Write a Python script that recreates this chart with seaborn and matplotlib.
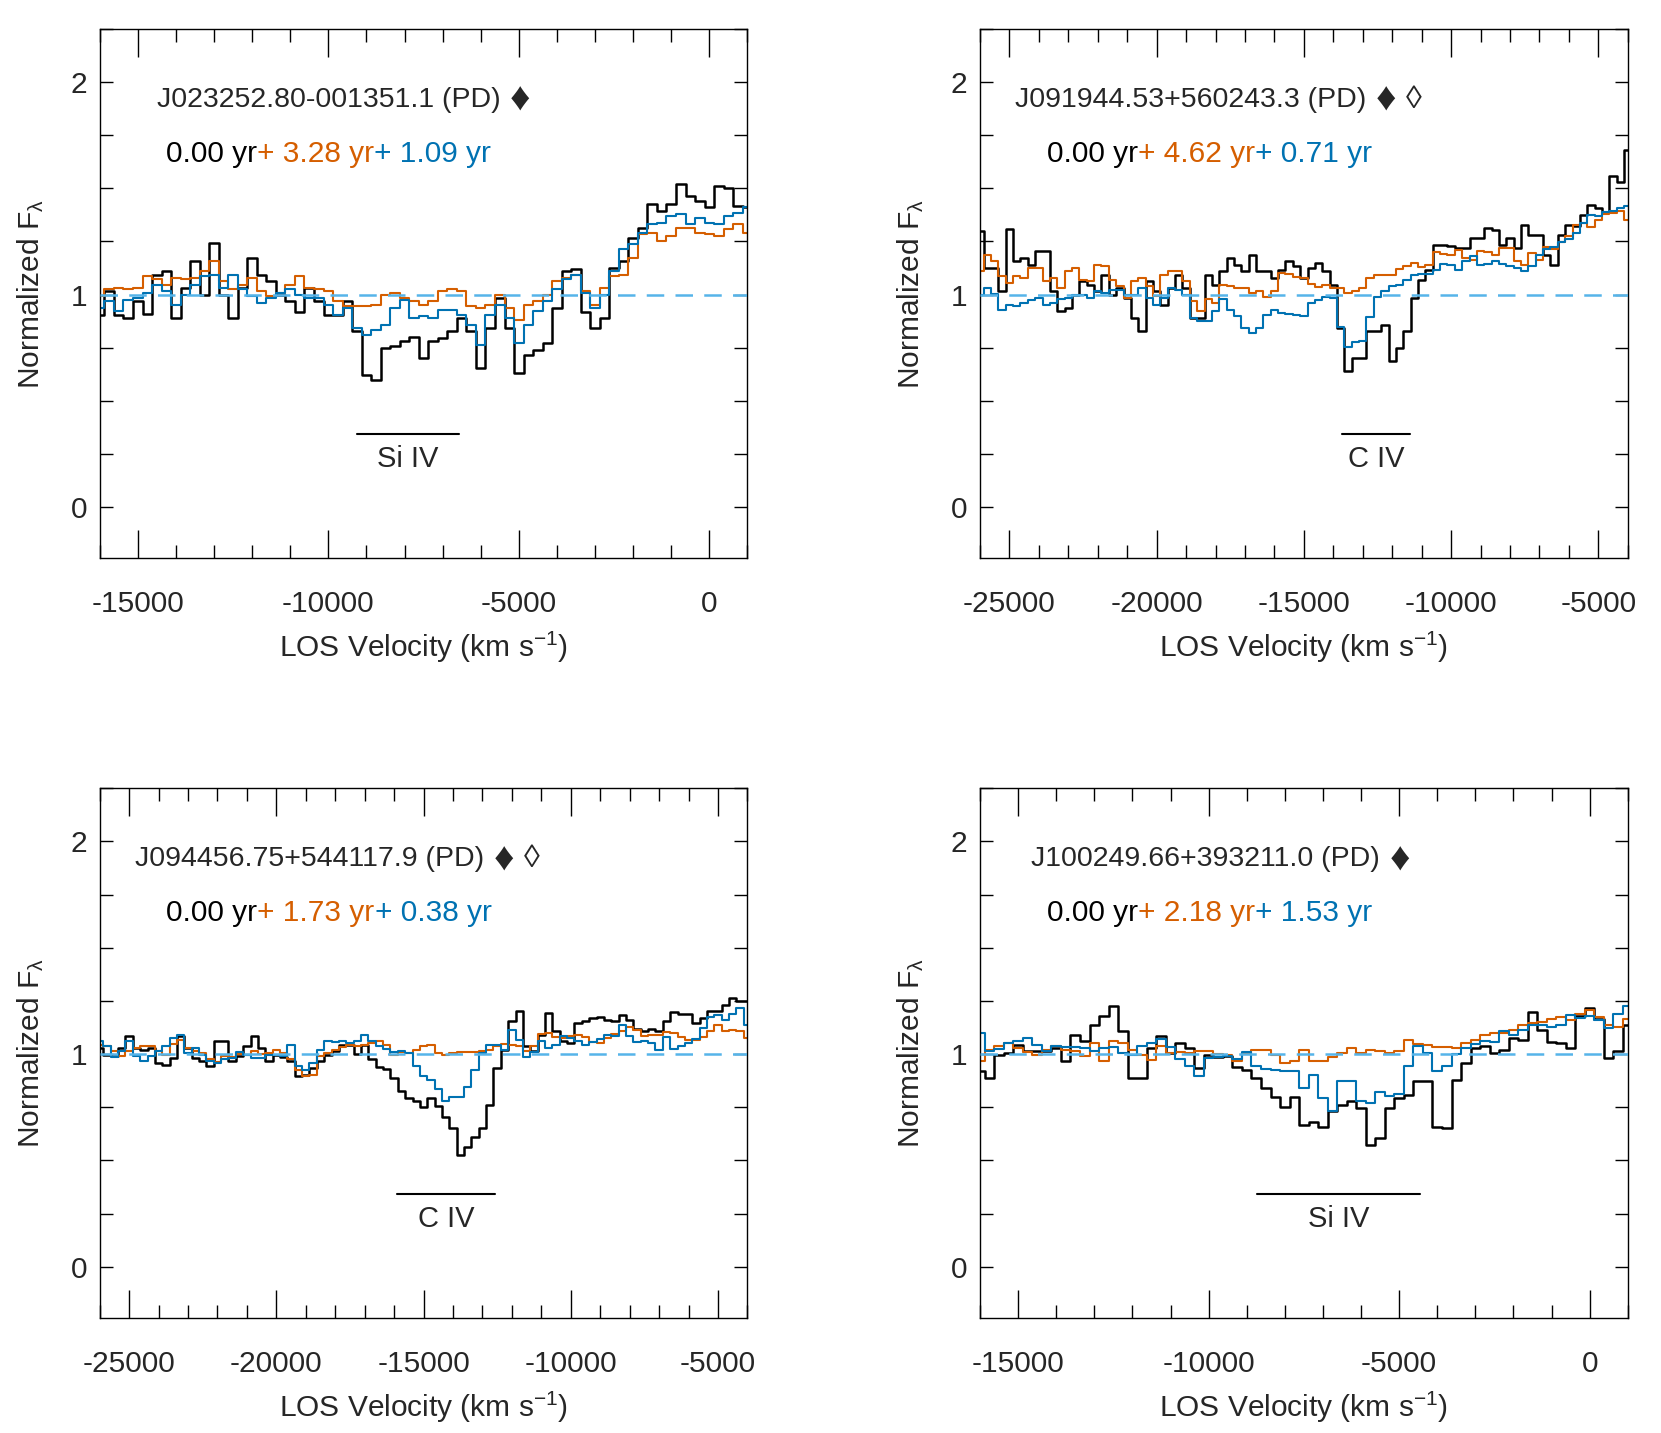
import numpy as np
import matplotlib
matplotlib.use('Agg')
import matplotlib.pyplot as plt
import seaborn as sns
from matplotlib.ticker import MultipleLocator

# velocity grids (km/s), bins every 250 km/s
vel_short = np.arange(-16000, 1001, 250)
vel_long = np.arange(-26000, -3999, 250)

# J023252.80-001351.1
p1_black = [0.906, 1.016, 0.906, 0.89, 0.969, 0.91, 1.094, 1.11, 0.89, 1.03,
            1.157, 1.0, 1.244, 1.0, 0.89, 1.03, 1.17, 1.094, 1.063, 1.0,
            0.969, 0.92, 1.03, 0.969, 0.906, 0.906, 0.969, 0.827, 0.623, 0.6,
            0.748, 0.756, 0.78, 0.80, 0.70,
            0.78, 0.796, 0.827, 0.89, 0.827, 0.654, 0.843, 0.984, 0.843, 0.63,
            0.717, 0.74, 0.77, 0.937, 1.11, 1.118, 0.92, 0.843, 0.89, 1.126,
            1.157, 1.267, 1.314, 1.425, 1.393, 1.425, 1.52, 1.464, 1.44, 1.41,
            1.51, 1.503, 1.417, 1.41]
p1_orange = [0.992, 1.024, 1.031, 1.024, 1.031, 1.086, 1.071, 1.047, 1.079, 1.071,
             1.079, 1.11, 1.157, 1.063, 1.024, 1.047, 1.079, 1.016, 0.992, 1.008,
             1.047, 1.086, 1.031, 1.024, 1.016, 0.969, 0.945, 0.945, 0.945, 0.953,
             1.0, 1.008, 0.984, 0.969, 0.953,
             0.969, 1.016, 1.024, 1.016, 0.945, 0.937, 0.953, 1.0, 0.937, 0.882,
             0.953, 0.969, 1.0, 1.063, 1.079, 1.094, 1.016, 0.953, 1.031, 1.086,
             1.094, 1.173, 1.283, 1.29, 1.25, 1.275, 1.314, 1.314, 1.29, 1.283,
             1.275, 1.307, 1.33, 1.29]
p1_blue = [0.937, 0.969, 0.921, 0.976, 0.984, 1.008, 1.047, 1.016, 0.953, 1.0,
           1.047, 1.086, 1.094, 1.031, 1.094, 1.024, 0.992, 0.961, 0.984, 1.008,
           1.024, 1.0, 0.984, 0.984, 0.953, 0.906, 0.937, 0.843, 0.811, 0.835,
           0.858, 0.937, 0.976, 0.89, 0.898,
           0.89, 0.929, 0.929, 0.906, 0.858, 0.764, 0.906, 0.953, 0.89, 0.772,
           0.858, 0.921, 0.969, 1.024, 1.071, 1.094, 1.008, 0.937, 1.0, 1.11,
           1.212, 1.236, 1.29, 1.33, 1.338, 1.37, 1.377, 1.33, 1.362, 1.338,
           1.33, 1.37, 1.385, 1.41]

# J091944.53+560243.3
p2_black = [1.297, 1.125, 1.125, 1.016, 1.31, 1.156, 1.172, 1.141, 1.203, 1.203,
            1.016, 0.922, 0.938, 1.0, 1.063, 1.047, 1.016, 1.094, 1.0, 1.031,
            0.984, 0.891, 0.828, 1.063, 1.016, 0.953, 1.031, 1.094, 1.031, 0.891,
            0.891, 1.094, 1.047, 1.109, 1.172, 1.141, 1.109, 1.188, 1.109, 1.109,
            1.078, 1.117, 1.156, 1.133, 1.078,
            1.125, 1.148, 1.109, 1.047, 0.844, 0.64, 0.703, 0.703, 0.828, 0.828,
            0.859, 0.688, 0.75, 0.828, 0.984, 1.07, 1.117, 1.234, 1.234, 1.227,
            1.219, 1.219, 1.266, 1.266, 1.313, 1.305, 1.234, 1.266, 1.219, 1.328,
            1.281, 1.281, 1.188, 1.141, 1.281, 1.328, 1.32, 1.375, 1.422, 1.406,
            1.39, 1.555, 1.531, 1.68]
p2_orange = [1.109, 1.188, 1.156, 1.086, 1.055, 1.086, 1.078, 1.125, 1.125, 1.063,
             1.078, 1.031, 1.109, 1.125, 1.07, 1.063, 1.141, 1.133, 1.07, 1.039,
             0.984, 1.063, 1.078, 1.039, 0.992, 1.094, 1.109, 1.109, 1.063, 0.969,
             0.922, 0.977, 0.961, 1.047, 1.039, 1.031, 1.031, 1.008, 1.016, 0.988,
             1.016, 1.102, 1.097, 1.083, 1.078,
             1.05, 1.036, 1.047, 1.031, 1.031, 1.008, 1.019, 1.031, 1.078, 1.091,
             1.094, 1.094, 1.122, 1.133, 1.148, 1.128, 1.141, 1.2, 1.19, 1.188,
             1.211, 1.172, 1.164, 1.203, 1.2, 1.188, 1.219, 1.219, 1.156, 1.141,
             1.195, 1.164, 1.222, 1.216, 1.247, 1.273, 1.325, 1.334, 1.316, 1.352,
             1.378, 1.383, 1.391, 1.352]
p2_blue = [1.0, 1.031, 1.003, 0.925, 0.953, 0.945, 0.961, 0.972, 0.984, 0.95,
           0.961, 0.977, 0.984, 1.0, 0.997, 0.984, 1.016, 1.008, 1.023, 1.023,
           1.0, 1.0, 1.031, 0.984, 0.953, 0.984, 1.031, 1.023, 1.0, 0.891,
           0.875, 0.875, 0.922, 0.977, 0.925, 0.898, 0.844, 0.82, 0.841, 0.906,
           0.925, 0.914, 0.909, 0.906, 0.898,
           0.961, 0.972, 0.988, 0.984, 0.847, 0.753, 0.777, 0.781, 0.894, 0.988,
           1.016, 1.039, 1.047, 1.067, 1.091, 1.097, 1.097, 1.117, 1.145, 1.141,
           1.117, 1.156, 1.18, 1.141, 1.144, 1.156, 1.144, 1.133, 1.125, 1.109,
           1.133, 1.184, 1.216, 1.225, 1.245, 1.263, 1.289, 1.336, 1.372, 1.37,
           1.39, 1.394, 1.406, 1.414]

# J094456.75+544117.9
p3_black = [1.028, 0.997, 0.989, 1.028, 1.083, 1.028, 1.02, 1.028, 0.958, 0.95,
            0.981, 1.083, 1.028, 0.981, 0.965, 0.942, 1.06, 1.06, 0.965, 0.989,
            1.036, 1.083, 1.028, 0.965, 0.997, 0.984, 0.965, 0.895, 0.9, 0.934,
            0.969, 0.997, 1.013, 1.044, 1.044, 1.0, 1.041, 0.978, 0.937, 0.931,
            0.887, 0.824, 0.792, 0.777, 0.753, 0.792, 0.758, 0.706, 0.651, 0.525,
            0.564, 0.612, 0.651, 0.761, 0.934, 1.02, 1.154, 1.201, 1.036, 1.016,
            1.091, 1.193, 1.107, 1.06, 1.052, 1.146, 1.157, 1.17, 1.173, 1.162,
            1.154, 1.182, 1.162, 1.12, 1.107, 1.12, 1.11, 1.157, 1.198, 1.186,
            1.186, 1.146, 1.17, 1.204, 1.204, 1.23, 1.264, 1.248, 1.248]
p3_orange = [1.044, 1.036, 1.016, 0.989, 1.013, 1.028, 1.039, 1.036, 1.013, 0.997,
             1.047, 1.068, 1.028, 1.013, 1.005, 0.978, 0.962, 0.989, 0.984, 1.0,
             0.997, 1.013, 1.0, 1.005, 1.02, 1.005, 0.978, 0.926, 0.895, 0.903,
             0.989, 1.005, 1.02, 1.031, 1.044, 1.039, 1.044, 1.052, 1.06, 1.044,
             0.997, 1.009, 1.005, 1.02, 1.036, 1.044, 1.005, 0.997, 1.005, 1.008,
             1.008, 1.009, 1.013, 1.02, 1.036, 1.047, 1.041, 1.036, 1.013, 1.036,
             1.094, 1.099, 1.079, 1.075, 1.083, 1.091, 1.079, 1.057, 1.052, 1.075,
             1.094, 1.11, 1.126, 1.115, 1.086, 1.091, 1.091, 1.102, 1.099, 1.079,
             1.068, 1.068, 1.079, 1.107, 1.138, 1.11, 1.115, 1.107, 1.075]
p3_blue = [1.06, 1.036, 0.984, 1.013, 1.06, 0.989, 0.969, 0.989, 1.016, 1.036,
           1.075, 1.091, 1.005, 1.028, 0.997, 0.965, 0.958, 0.978, 0.981, 1.009,
           0.994, 0.981, 0.981, 0.997, 0.997, 0.989, 1.044, 0.942, 0.926, 0.958,
           1.02, 1.06, 1.057, 1.063, 1.052, 1.063, 1.091, 1.063, 1.036, 1.025,
           1.009, 1.013, 1.005, 0.942, 0.895, 0.879, 0.836, 0.777, 0.8, 0.8,
           0.847, 0.926, 1.005, 1.041, 1.044, 1.02, 1.115, 1.068, 0.984, 1.009,
           1.063, 1.028, 1.044, 1.083, 1.075, 1.06, 1.044, 1.057, 1.072, 1.091,
           1.083, 1.135, 1.086, 1.057, 1.063, 1.052, 1.02, 1.079, 1.025, 1.036,
           1.052, 1.072, 1.123, 1.173, 1.182, 1.162, 1.186, 1.217, 1.138]

# J100249.66+393211.0
p4_black = [0.918, 0.887, 0.994, 1.005, 1.044, 1.013, 1.013, 1.013, 1.028, 0.969,
            1.091, 1.06, 1.138, 1.178, 1.225, 1.107, 0.887, 0.887, 1.028, 1.083,
            1.005, 1.052, 1.028, 0.934, 0.994, 0.984, 0.989, 0.937, 0.926, 0.887,
            0.84, 0.796, 0.753, 0.8, 0.667,
            0.682, 0.659, 0.73, 0.761, 0.78, 0.745, 0.572, 0.604, 0.745, 0.792,
            0.808, 0.871, 0.871, 0.659, 0.651, 0.879, 0.958, 1.028, 1.036, 1.005,
            1.02, 1.075, 1.068, 1.198, 1.115, 1.057, 1.052, 1.028, 1.178, 1.217,
            1.167, 0.981, 1.013, 1.138]
p4_orange = [0.965, 1.02, 1.036, 1.052, 1.028, 1.009, 0.994, 1.02, 1.036, 1.02,
             1.016, 0.989, 1.052, 0.969, 1.06, 1.052, 1.02, 0.997, 0.973, 1.036,
             1.005, 1.009, 1.005, 1.016, 1.013, 1.0, 0.994, 0.969, 1.0, 1.02,
             1.017, 0.997, 0.958, 0.969, 1.02,
             0.969, 0.965, 0.984, 1.005, 1.028, 1.005, 1.02, 1.013, 1.005, 1.016,
             1.068, 1.047, 1.041, 1.031, 1.031, 1.028, 1.052, 1.068, 1.091, 1.099,
             1.099, 1.112, 1.135, 1.146, 1.149, 1.165, 1.175, 1.162, 1.186, 1.209,
             1.173, 1.135, 1.126, 1.167]
p4_blue = [1.099, 1.013, 1.025, 1.052, 1.063, 1.075, 1.041, 1.016, 1.036, 1.031,
           1.033, 1.028, 1.016, 1.028, 1.031, 1.005, 0.994, 1.036, 1.052, 1.072,
           1.031, 0.978, 0.942, 0.899, 0.981, 0.984, 0.989, 0.978, 1.009, 0.942,
           0.931, 0.923, 0.921, 0.921, 0.84,
           0.903, 0.792, 0.733, 0.871, 0.871, 0.777, 0.769, 0.821, 0.805, 0.811,
           0.942, 1.036, 1.005, 0.918, 0.942, 1.0, 1.028, 1.047, 1.06, 1.057,
           1.107, 1.091, 1.115, 1.138, 1.138, 1.126, 1.138, 1.182, 1.17, 1.178,
           1.162, 1.123, 1.186, 1.225]

names = ['J023252.80-001351.1 (PD)', 'J091944.53+560243.3 (PD)',
         'J094456.75+544117.9 (PD)', 'J100249.66+393211.0 (PD)']
symbols = [['\u2666'], ['\u2666', '\u25ca'], ['\u2666', '\u25ca'], ['\u2666']]
sym_size = {'\u2666': 29, '\u25ca': 23}
name_x = [0.088, 0.054, 0.054, 0.079]
dt_orange = ['3.28', '4.62', '1.73', '2.18']
dt_blue = ['1.09', '0.71', '0.38', '1.53']
ions = ['Si IV', 'C IV', 'C IV', 'Si IV']
ion_ranges = [(-9240, -6570), (-13700, -11400), (-15900, -12590), (-8720, -4440)]
xlims = [(-16000, 1000), (-26000, -4000), (-26000, -4000), (-16000, 1000)]

BLACK = 'black'
ORANGE = '#D55E00'
BLUE = '#0072B2'
SKY = '#56B4E9'

sns.set_theme(style='ticks')
plt.rcParams['font.family'] = ['Liberation Sans', 'DejaVu Sans']
plt.rcParams['mathtext.fontset'] = 'custom'
plt.rcParams['mathtext.rm'] = 'Liberation Sans'
plt.rcParams['mathtext.default'] = 'regular'
plt.rcParams['axes.unicode_minus'] = False

fig = plt.figure(figsize=(16.61, 14.33), dpi=100)
boxes = [[0.060, 0.6104, 0.390, 0.3696], [0.590, 0.6104, 0.390, 0.3696],
         [0.060, 0.0804, 0.390, 0.3696], [0.590, 0.0804, 0.390, 0.3696]]
vels = [vel_short, vel_long, vel_long, vel_short]
spectra = [(p1_black, p1_orange, p1_blue), (p2_black, p2_orange, p2_blue),
           (p3_black, p3_orange, p3_blue), (p4_black, p4_orange, p4_blue)]

for k in range(4):
    ax = fig.add_axes(boxes[k])
    v = vels[k]
    fb, fo, fbl = spectra[k]
    sns.lineplot(x=v, y=fb, ax=ax, color=BLACK, lw=1.8, drawstyle='steps-mid',
                 estimator=None, sort=False, legend=False)
    sns.lineplot(x=v, y=fo, ax=ax, color=ORANGE, lw=1.5, drawstyle='steps-mid',
                 estimator=None, sort=False, legend=False)
    sns.lineplot(x=v, y=fbl, ax=ax, color=BLUE, lw=1.5, drawstyle='steps-mid',
                 estimator=None, sort=False, legend=False)
    ax.axhline(1, color=SKY, lw=1.8, dashes=(7, 4.5), zorder=5)

    x0, x1 = ion_ranges[k]
    ax.plot([x0, x1], [0.343, 0.343], color='black', lw=1.5)
    ax.text((x0 + x1) / 2, 0.225, ions[k], ha='center', va='center', fontsize=21)

    ax.set_xlim(*xlims[k])
    ax.set_ylim(-0.24, 2.25)
    ax.xaxis.set_major_locator(MultipleLocator(5000))
    ax.xaxis.set_minor_locator(MultipleLocator(1000))
    ax.yaxis.set_major_locator(MultipleLocator(1))
    ax.yaxis.set_minor_locator(MultipleLocator(0.25))
    ax.tick_params(which='both', direction='in', top=True, right=True,
                   color='black', width=1, labelsize=21.5)
    ax.tick_params(axis='x', which='major', length=20, pad=23)
    ax.tick_params(axis='x', which='minor', length=9.5)
    ax.tick_params(axis='y', which='both', length=9.5, pad=9)
    for s in ax.spines.values():
        s.set_color('black')
        s.set_linewidth(1.0)

    ax.set_xlabel(r'LOS Velocity (km s$^{-1}$)', fontsize=21.5)
    ax.set_ylabel(r'Normalized F$_\lambda$', fontsize=21.5)
    ax.xaxis.label.set_va('baseline')
    ax.xaxis.set_label_coords(0.5, -0.187)
    ax.yaxis.label.set_va('baseline')
    ax.yaxis.set_label_coords(-0.094, 0.5)

    prev = ax.text(name_x[k], 0.866, names[k], transform=ax.transAxes, ha='left',
                   va='center', fontsize=20.5)
    for sym in symbols[k]:
        prev = ax.annotate(sym, xy=(1, 0.5), xycoords=prev, xytext=(7, 0),
                           textcoords='offset points', ha='left', va='center',
                           fontsize=sym_size[sym])
    t1 = ax.text(0.103, 0.764, '0.00 yr', transform=ax.transAxes, ha='left',
                 va='center', fontsize=21.5, color=BLACK)
    t2 = ax.annotate('+ ' + dt_orange[k] + ' yr', xy=(1, 0), xycoords=t1,
                     ha='left', va='bottom', fontsize=21.5, color=ORANGE)
    ax.annotate('+ ' + dt_blue[k] + ' yr', xy=(1, 0), xycoords=t2,
                ha='left', va='bottom', fontsize=21.5, color=BLUE)

fig.savefig('out.png', dpi=100)
